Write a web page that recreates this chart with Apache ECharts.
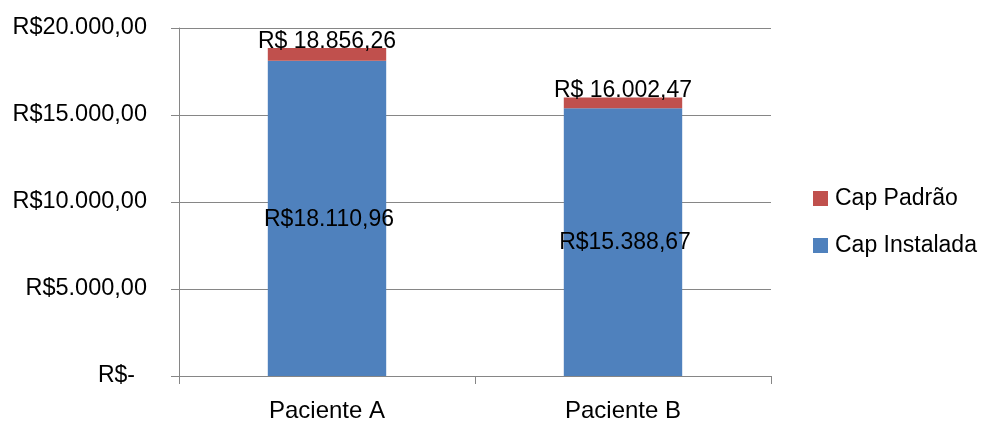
<!DOCTYPE html>
<html>
<head>
<meta charset="utf-8">
<script src="https://cdn.jsdelivr.net/npm/echarts@6/dist/echarts.min.js"></script>
<style>
  html, body { margin: 0; padding: 0; background: #fff; }
  #chart { width: 981px; height: 423px; }
</style>
</head>
<body>
<div id="chart"></div>
<script>
// Patients compared by installed capacity plus the standard cap on top
const categories = ['Paciente A', 'Paciente B'];
const capInstalada = [18110.96, 15388.67];
const capTotal = [18856.26, 16002.47];
const seriesNames = ['Cap Padrão', 'Cap Instalada'];
const yMax = 20000;
const yStep = 5000;

// Standard cap segment = stacked total minus installed
const capPadrao = capTotal.map((t, i) => +(t - capInstalada[i]).toFixed(2));

// Brazilian currency-style number: 18.110,96
function brl(v) {
  const parts = v.toFixed(2).split('.');
  const intPart = parts[0].replace(/\B(?=(\d{3})+(?!\d))/g, '.');
  return intPart + ',' + parts[1];
}

const FONT = 'Liberation Sans';
const chart = echarts.init(document.getElementById('chart'), null, { renderer: 'canvas' });

chart.setOption({
  animation: false,
  textStyle: { fontFamily: FONT, color: '#000' },
  grid: { left: 179, right: 210, top: 28, bottom: 45, containLabel: false },
  legend: {
    orient: 'vertical',
    left: 808,
    top: 182,
    itemWidth: 15,
    itemHeight: 15,
    itemGap: 24,
    icon: 'rect',
    data: [seriesNames[0], seriesNames[1]],
    textStyle: { fontFamily: FONT, fontSize: 23, color: '#000', padding: [0, 0, 0, 2] }
  },
  xAxis: {
    type: 'category',
    data: categories,
    axisLine: { show: true, lineStyle: { color: '#868686', width: 1 } },
    axisTick: { show: true, alignWithLabel: false, length: 8, lineStyle: { color: '#868686' } },
    axisLabel: { fontFamily: FONT, fontSize: 24, color: '#000', margin: 23 },
    splitLine: { show: false }
  },
  yAxis: {
    type: 'value',
    min: 0,
    max: yMax,
    interval: yStep,
    axisLine: { show: true, lineStyle: { color: '#868686', width: 1 } },
    axisTick: { show: true, inside: false, length: 8, lineStyle: { color: '#868686' } },
    axisLabel: {
      fontFamily: FONT,
      fontSize: 23.5,
      color: '#000',
      margin: 32,
      formatter: v => v === 0 ? '{z|R$-}' : 'R$' + brl(v),
      rich: { z: { fontFamily: FONT, fontSize: 23, color: '#000', padding: [0, 12, 0, 0] } }
    },
    splitLine: { show: true, lineStyle: { color: '#868686', width: 1 } }
  },
  series: [
    {
      name: seriesNames[1],
      type: 'bar',
      stack: 'cap',
      barWidth: '40%',
      data: capInstalada,
      itemStyle: { color: '#4F81BD' },
      label: {
        show: true,
        position: 'inside',
        offset: [2, 1],
        fontFamily: FONT,
        fontSize: 23,
        color: '#000',
        formatter: p => 'R$' + brl(p.value)
      }
    },
    {
      name: seriesNames[0],
      type: 'bar',
      stack: 'cap',
      barWidth: '40%',
      data: capPadrao,
      itemStyle: { color: '#C0504D' },
      label: {
        show: true,
        position: 'top',
        distance: -5,
        fontFamily: FONT,
        fontSize: 23,
        color: '#000',
        formatter: p => 'R$ ' + brl(capTotal[p.dataIndex])
      }
    }
  ]
});
</script>
</body>
</html>
